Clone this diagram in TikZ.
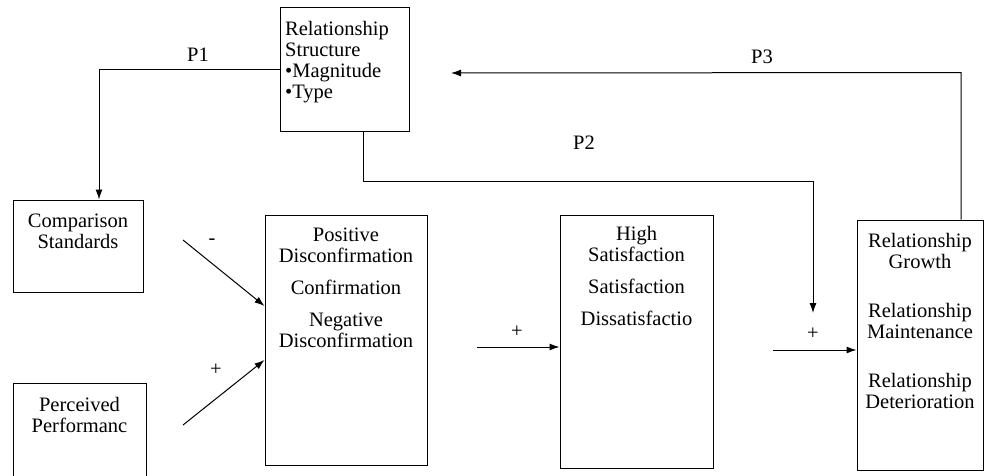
\documentclass[tikz,border=0pt]{standalone}
\usepackage{fontspec}
\setmainfont{Liberation Serif}
\usetikzlibrary{arrows.meta}
\begin{document}
\begin{tikzpicture}[x=1pt,y=-1pt,
  box/.style={draw, line width=1pt, inner sep=0pt},
  txt/.style={font=\fontsize{20.5}{21}\selectfont, align=center, inner sep=0pt},
  conn/.style={line width=1pt, -{Latex[length=10pt,width=7pt]}},
]
\useasboundingbox (0,0) rectangle (985,475);
% boxes
\node[box, minimum width=129pt, minimum height=124pt] (rs) at (344.5,69) {};
\node[box, minimum width=130pt, minimum height=92pt] (cs) at (78,246) {};
\node[box, minimum width=133pt, minimum height=100pt] (pp) at (79.5,433) {};
\node[box, minimum width=162pt, minimum height=250pt] (pd) at (346,340) {};
\node[box, minimum width=153pt, minimum height=253pt] (hs) at (636.5,341.5) {};
\node[box, minimum width=126pt, minimum height=250pt] (rg) at (920,345) {};
% texts
\node[txt, align=left, anchor=north west] (rst) at (285,21) {Relationship\\Structure\\\textbullet Magnitude\\\textbullet Type};
\node[txt, anchor=north] (cst) at (cs.center |- 0,214) {Comparison\\Standards};
\node[txt, anchor=north] (ppt) at (pp.center |- 0,397) {Perceived\\Performanc};
\node[txt, anchor=north] (pdt) at (pd.center |- 0,228) {Positive\\Disconfirmation\\[11pt]Confirmation\\[11pt]Negative\\Disconfirmation};
\node[txt, anchor=north] (hst) at (hs.center |- 0,226) {High\\Satisfaction\\[11pt]Satisfaction\\[11pt]Dissatisfactio};
\node[txt, anchor=north] (rgt) at (rg.center |- 0,233) {Relationship\\Growth\\[28pt]Relationship\\Maintenance\\[28pt]Relationship\\Deterioration};
% connector endpoints
\coordinate (ma) at (183,240);
\coordinate (pa) at (183,425);
\coordinate (ha) at (477,347);
\coordinate (ra) at (773,350);
\coordinate (p2end) at (813,313);
\coordinate (p3end) at (451,73);
% connectors
\draw[conn] (rs.west) -| ([xshift=21pt]cs.north);
\draw[conn] ([xshift=18.5pt]rs.south) -- ++(0,50) -| (p2end);
\draw[conn] ([xshift=41pt]rg.north) -- ++(0,-147) -- (p3end);
\draw[conn] (ma) -- ([yshift=34pt]pd.west);
\draw[conn] (pa) -- ([yshift=-20pt]pd.west);
\draw[conn] (ha) -- (ha -| hs.west);
\draw[conn] (ra) -- (ra -| rg.west);
% labels
\node[txt] (l1) at (198,55) {P1};
\node[txt] (l2) at (584,143) {P2};
\node[txt] (l3) at (762,57) {P3};
\node[txt] (lm) at (212,242) {-};
\node[txt] (lp1) at (216,370) {+};
\node[txt] (lp2) at (517,332) {+};
\node[txt] (lp3) at (813,334) {+};
\end{tikzpicture}
\end{document}
